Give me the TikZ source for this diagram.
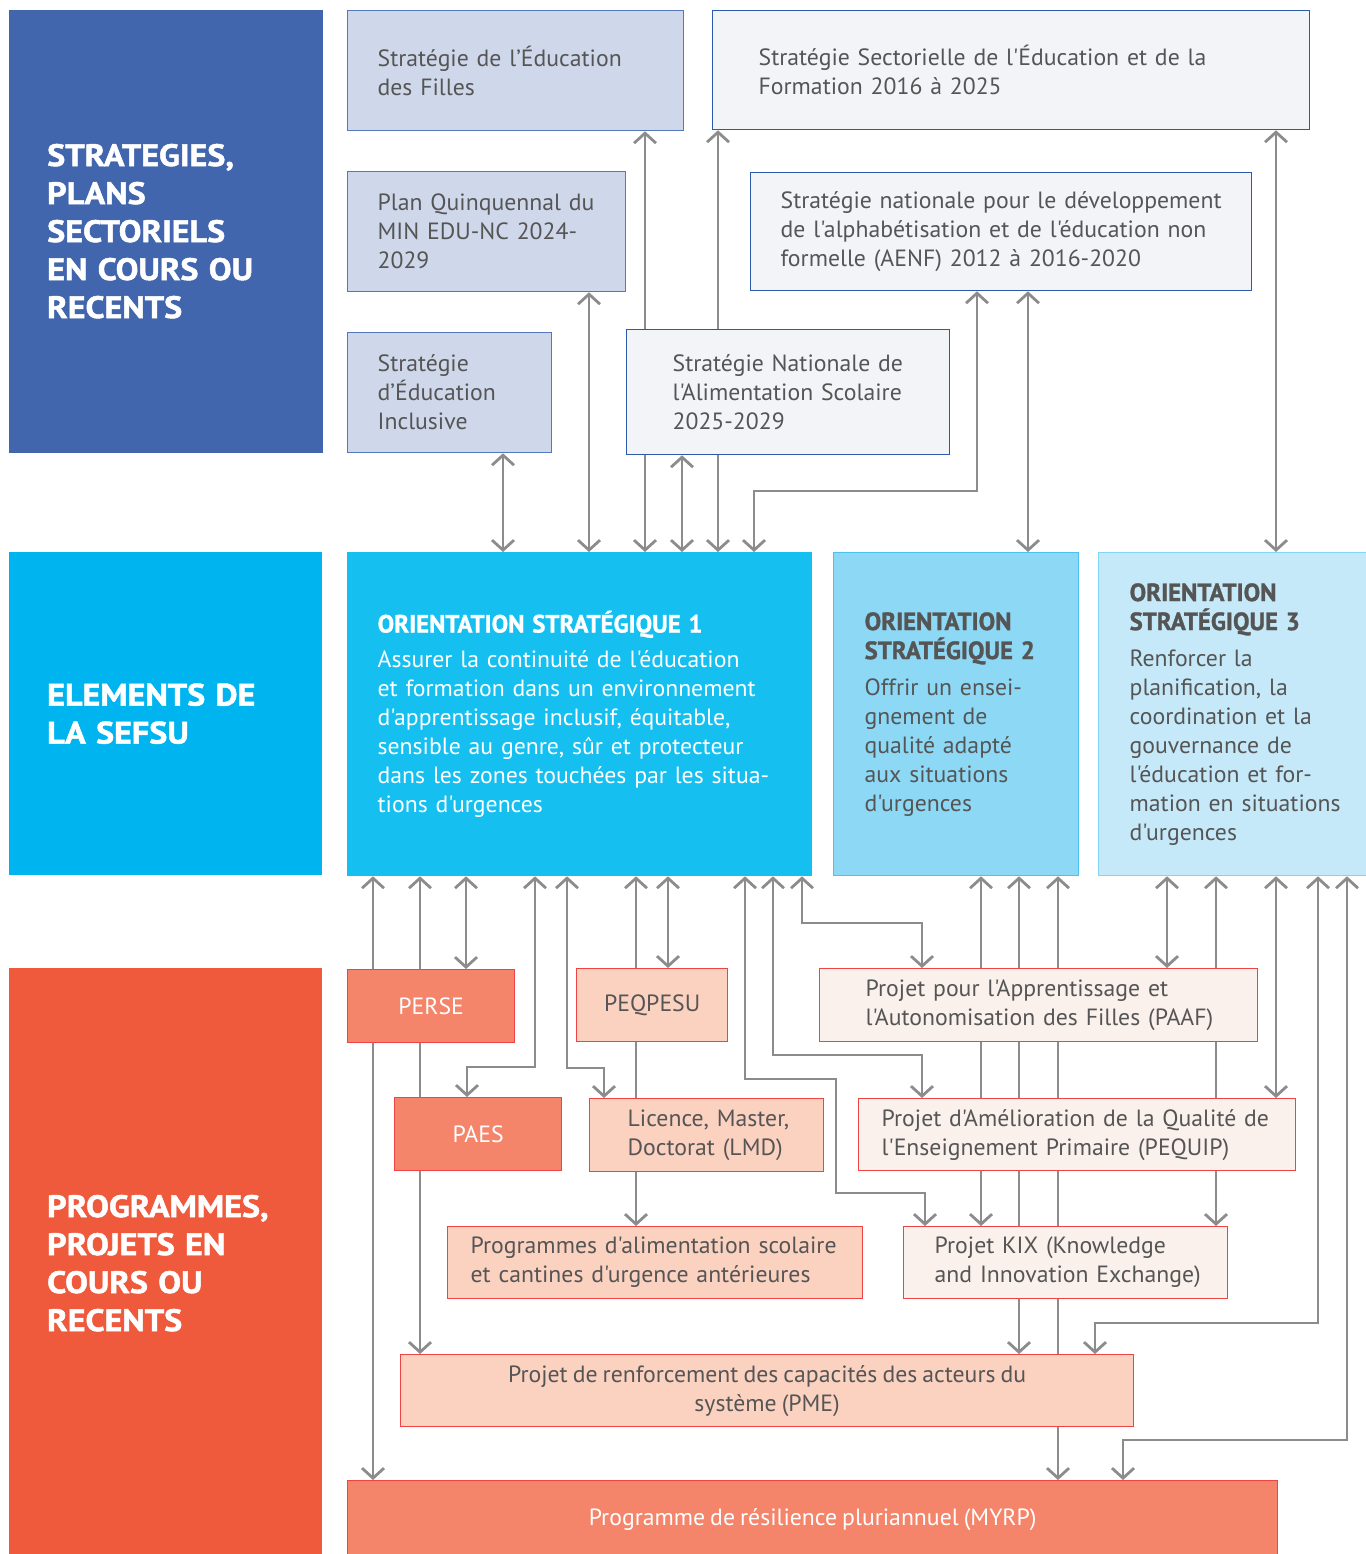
\documentclass[tikz,border=0pt]{standalone}
\usepackage{fontspec}
\setmainfont{PT Sans}[Ligatures=TeXOff, FakeStretch=1.01, WordSpace=0.8]
\newfontfamily\hdfont{PT Sans}[Ligatures=TeXOff, FakeStretch=0.99, FakeBold=1.2]
\newfontfamily\lblfont{PT Sans}[Ligatures=TeXOff, FakeStretch=1.1, FakeBold=1.6]
\usetikzlibrary{arrows.meta, backgrounds}
\definecolor{labblue}{HTML}{4166AE}
\definecolor{labcyan}{HTML}{00B5EF}
\definecolor{labred}{HTML}{EF5A3C}
\definecolor{sfill}{HTML}{CFD8EA}
\definecolor{sline}{HTML}{5577BB}
\definecolor{spale}{HTML}{F2F4F8}
\definecolor{sdark}{HTML}{2B5BA8}
\definecolor{ofirst}{HTML}{15C0F0}
\definecolor{osecond}{HTML}{8CD8F5}
\definecolor{othird}{HTML}{C5E9F8}
\definecolor{oline}{HTML}{4CC3EE}
\definecolor{psalmon}{HTML}{F4856A}
\definecolor{ppeach}{HTML}{FBD1C0}
\definecolor{ppale}{HTML}{FBF1EC}
\definecolor{pline}{HTML}{EE4444}
\definecolor{tgray}{HTML}{555555}
\definecolor{lgray}{HTML}{8C8C8C}
\newcommand{\bodyfont}{\fontsize{23.5}{29}\selectfont}
\newcommand{\ohead}{\hdfont\bfseries\fontsize{25}{29}\selectfont}

\begin{document}
\begin{tikzpicture}[x=1pt, y=-1pt,
  >={Straight Barb[length=10pt, width=22pt]},
  lbl/.style={rectangle, anchor=north west, inner xsep=38pt, inner ysep=0pt, align=left,
    text=white, font=\lblfont\bfseries\fontsize{31}{38}\selectfont},
  bx/.style={rectangle, draw, anchor=north west, line width=1.3pt, inner ysep=0pt,
    align=left, text=tgray, font=\bodyfont,
    execute at begin node={\rightskip=-100pt plus 1fil\hyphenpenalty=10000}},
  sbox/.style={bx, fill=sfill, draw=sline},
  spbox/.style={bx, fill=spale, draw=sdark},
  salm/.style={bx, fill=psalmon, draw=pline, text=white, align=center},
  peach/.style={bx, fill=ppeach, draw=pline},
  pale/.style={bx, fill=ppale, draw=pline},
  lnk/.style={draw=lgray, line width=2.8pt, <->}]
\useasboundingbox (0,0) rectangle (1365,1554);

\node[lbl, fill=labblue, draw=labblue, minimum width=313pt, minimum height=442pt, text width=237pt] (lstrat) at (9,10)
  {STRATEGIES,\\PLANS\\SECTORIELS\\EN COURS OU\\RECENTS};
\node[lbl, fill=labcyan, minimum width=313pt, minimum height=323pt, text width=237pt] (lsefsu) at (9,552)
  {ELEMENTS DE\\LA SEFSU};
\node[lbl, fill=labred, minimum width=313pt, minimum height=590pt, text width=237pt] (lprog) at (9,968)
  {PROGRAMMES,\\PROJETS EN\\COURS OU\\RECENTS};

\node[sbox, minimum width=336pt, minimum height=120pt, inner xsep=30pt, text width=276pt] (sfilles) at (347,10)
  {Stratégie de l’Éducation\\des Filles};
\node[spbox, minimum width=597pt, minimum height=119pt, inner xsep=46pt, text width=505pt] (ssect) at (712,10)
  {Stratégie Sectorielle de l'Éducation et de la\\Formation 2016 à 2025};
\node[sbox, minimum width=278pt, minimum height=120pt, inner xsep=30pt, text width=218pt] (splan) at (347,171)
  {Plan Quinquennal du\\MIN EDU-NC 2024-\\2029};
\node[spbox, minimum width=501pt, minimum height=118pt, inner xsep=30pt, text width=441pt] (saenf) at (750,172)
  {Stratégie nationale pour le développement\\de l'alphabétisation et de l'éducation non\\formelle (AENF) 2012 à 2016-2020};
\node[sbox, minimum width=204pt, minimum height=120pt, inner xsep=30pt, text width=144pt] (sincl) at (347,332)
  {Stratégie\\d’Éducation\\Inclusive};
\node[spbox, minimum width=323pt, minimum height=125pt, inner xsep=46pt, text width=231pt] (salim) at (626,329)
  {Stratégie Nationale de\\l'Alimentation Scolaire\\2025-2029};

\node[bx, fill=ofirst, draw=ofirst, text=white, minimum width=464pt, minimum height=323pt, inner xsep=30pt, text width=404pt] (o1) at (347,552)
  {{\ohead ORIENTATION STRATÉGIQUE 1}\\[6pt]Assurer la continuité de l'éducation\\et formation dans un environnement\\d'apprentissage inclusif, équitable,\\sensible au genre, sûr et protecteur\\dans les zones touchées par les situa-\\tions d'urgences};
\node[bx, fill=osecond, draw=oline, minimum width=245pt, minimum height=323pt, inner xsep=31pt, text width=183pt] (o2) at (833,552)
  {{\ohead ORIENTATION}\\{\ohead STRATÉGIQUE 2}\\[7pt]Offrir un ensei-\\gnement de\\qualité adapté\\aux situations\\d'urgences};
\node[bx, fill=othird, draw=oline!70, minimum width=268pt, minimum height=323pt, inner xsep=31pt, text width=206pt] (o3) at (1098,552)
  {{\ohead ORIENTATION}\\{\ohead STRATÉGIQUE 3}\\[7pt]Renforcer la\\planification, la\\coordination et la\\gouvernance de\\l'éducation et for-\\mation en situations\\d'urgences};

\node[salm, minimum width=167pt, minimum height=73pt] (perse) at (347,969) {PERSE};
\node[peach, align=center, minimum width=151pt, minimum height=73pt] (peqpesu) at (576,968) {PEQPESU};
\node[pale, minimum width=438pt, minimum height=73pt, inner xsep=46pt, text width=346pt] (paaf) at (819,968)
  {Projet pour l'Apprentissage et\\l'Autonomisation des Filles (PAAF)};
\node[salm, minimum width=167pt, minimum height=73pt] (paes) at (394,1097) {PAES};
\node[peach, minimum width=234pt, minimum height=73pt, inner xsep=38pt, text width=158pt] (lmd) at (589,1098)
  {Licence, Master,\\Doctorat (LMD)};
\node[pale, minimum width=437pt, minimum height=72pt, inner xsep=23pt, text width=391pt] (pequip) at (858,1098)
  {Projet d'Amélioration de la Qualité de\\l'Enseignement Primaire (PEQUIP)};
\node[peach, minimum width=415pt, minimum height=72pt, inner xsep=23pt, text width=369pt] (cant) at (447,1226)
  {Programmes d'alimentation scolaire\\et cantines d'urgence antérieures};
\node[pale, minimum width=324pt, minimum height=72pt, inner xsep=31pt, text width=262pt] (kix) at (903,1226)
  {Projet KIX (Knowledge\\and Innovation Exchange)};
\node[peach, align=center, minimum width=733pt, minimum height=72pt] (pme) at (400,1354)
  {Projet de renforcement des capacités des acteurs du\\système (PME)};
\node[salm, minimum width=930pt, minimum height=78pt] (myrp) at (347,1480)
  {Programme de résilience pluriannuel (MYRP)};

\begin{scope}[on background layer]
\draw[lnk] (sincl.south -| 503,0) -- (o1.north -| 503,0);
\draw[lnk] (splan.south -| 589,0) -- (o1.north -| 589,0);
\draw[lnk] (sfilles.south -| 645,0) -- (o1.north -| 645,0);
\draw[lnk] (salim.south -| 682,0) -- (o1.north -| 682,0);
\draw[lnk] (ssect.south -| 718,0) -- (o1.north -| 718,0);
\draw[lnk] (o1.north -| 754,0) |- (977,491) -- (saenf.south -| 977,0);
\draw[lnk] (saenf.south -| 1028,0) -- (o2.north -| 1028,0);
\draw[lnk] (ssect.south -| 1276,0) -- (o3.north -| 1276,0);

\draw[lnk] (o1.south -| 373,0) -- (myrp.north -| 373,0);
\draw[lnk] (o1.south -| 420,0) -- (pme.north -| 420,0);
\draw[lnk] (o1.south -| 466,0) -- (perse.north -| 466,0);
\draw[lnk] (o1.south -| 535,0) |- (467,1067) -- (paes.north -| 467,0);
\draw[lnk] (o1.south -| 567,0) |- (604,1068) -- (lmd.north -| 604,0);
\draw[lnk] (o1.south -| 636,0) -- (cant.north -| 636,0);
\draw[lnk] (o1.south -| 668,0) -- (peqpesu.north -| 668,0);
\draw[lnk] (o1.south -| 745,0) |- (836,1079) |- (925,1193) -- (kix.north -| 925,0);
\draw[lnk] (o1.south -| 773,0) |- (922,1055) -- (pequip.north -| 922,0);
\draw[lnk] (o1.south -| 802,0) |- (922,923) -- (paaf.north -| 922,0);
\draw[lnk] (o2.south -| 981,0) -- (kix.north -| 981,0);
\draw[lnk] (o2.south -| 1019,0) -- (pme.north -| 1019,0);
\draw[lnk] (o2.south -| 1058,0) -- (myrp.north -| 1058,0);
\draw[lnk] (o3.south -| 1167,0) -- (paaf.north -| 1167,0);
\draw[lnk] (o3.south -| 1216,0) -- (kix.north -| 1216,0);
\draw[lnk] (o3.south -| 1276,0) -- (pequip.north -| 1276,0);
\draw[lnk] (o3.south -| 1318,0) |- (1095,1323) -- (pme.north -| 1095,0);
\draw[lnk] (o3.south -| 1347,0) |- (1123,1440) -- (myrp.north -| 1123,0);
\end{scope}
\end{tikzpicture}
\end{document}
